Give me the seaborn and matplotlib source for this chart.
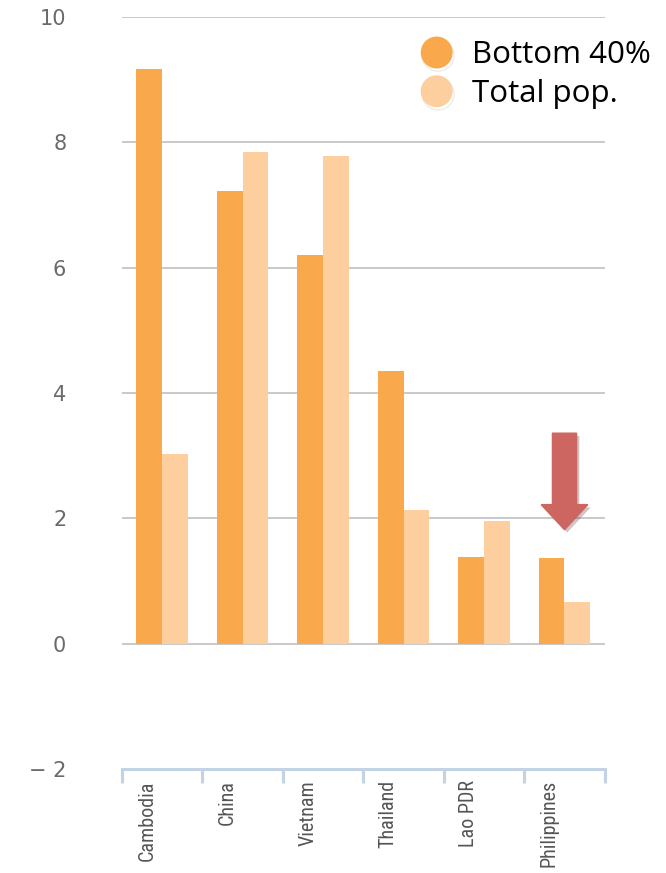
import numpy as np
import pandas as pd
import matplotlib
matplotlib.use("Agg")
import matplotlib.pyplot as plt
import seaborn as sns
from matplotlib import font_manager
from matplotlib.lines import Line2D
import matplotlib.patheffects as pe

countries = ["Cambodia", "China", "Vietnam", "Thailand", "Lao PDR", "Philippines"]
bottom40 = [9.17, 7.22, 6.21, 4.35, 1.39, 1.37]
total_pop = [3.02, 7.84, 7.78, 2.14, 1.96, 0.67]
series_names = ["Bottom 40%", "Total pop."]
ytick_values = [-2, 0, 2, 4, 6, 8, 10]
ytick_labels = ["\u2212 2", "0", "2", "4", "6", "8", "10"]

colors = ["#f9a84b", "#fdcf9e"]

df = pd.DataFrame({
    "country": countries * 2,
    "value": bottom40 + total_pop,
    "series": [series_names[0]] * len(countries) + [series_names[1]] * len(countries),
})

sns.set_theme(style="white")

def pick_font(cands):
    for c in cands:
        try:
            font_manager.findfont(font_manager.FontProperties(family=c), fallback_to_default=False)
            return c
        except Exception:
            pass
    return "DejaVu Sans"

narrow = pick_font(["Liberation Sans Narrow", "Roboto Condensed", "DejaVu Sans"])
legend_font = pick_font(["Open Sans", "Noto Sans", "DejaVu Sans"])

fig = plt.figure(figsize=(6.66, 8.73), dpi=100)
ax = fig.add_axes([0.183, 0.119, 0.725, 0.8615])

sns.barplot(data=df, x="country", y="value", hue="series", palette=colors,
            width=0.64, saturation=1, ax=ax, legend=False, edgecolor="none")

ax.set_xlim(-0.5, 5.5)
ax.set_ylim(-2, 10)

# grid lines
for v in ytick_values[1:]:
    ax.axhline(v, color="#c9c9c9", lw=1.4, zorder=0)

ax.set_yticks(ytick_values)
ax.set_yticklabels(ytick_labels, fontsize=15, color="#6a6a6a", family="DejaVu Sans")
ax.tick_params(axis="y", length=0, pad=40)

ax.set_xticks(np.arange(len(countries)) - 0.19)
ax.set_xticklabels(countries, rotation=90, fontsize=14.5, color="#555555",
                   family=narrow, va="top", ha="center")
ax.tick_params(axis="x", which="major", length=0, pad=8)
ax.set_xticks(np.arange(len(countries) + 1) - 0.5, minor=True)
ax.tick_params(axis="x", which="minor", bottom=True, length=10, width=2.2,
               color="#c3d3e6", direction="out")
ax.set_xlabel("")
ax.set_ylabel("")

for s in ["top", "left", "right"]:
    ax.spines[s].set_visible(False)
ax.spines["bottom"].set_color("#c3d3e6")
ax.spines["bottom"].set_linewidth(2.2)

# arrow annotation near Philippines
arrow = ax.arrow(5.0, 3.36, 0, -1.54, width=0.30, head_width=0.58, head_length=0.40,
                 length_includes_head=True, color="#cd6560", zorder=5)
arrow.set_path_effects([pe.SimplePatchShadow(offset=(2, -2), alpha=0.25), pe.Normal()])

# legend
handles = [Line2D([0], [0], marker="o", linestyle="none", markersize=23,
                  markerfacecolor=c, markeredgecolor="none",
                  path_effects=[pe.SimpleLineShadow(offset=(1, -2), alpha=0.15, shadow_color="gray"), pe.Normal()])
           for c in colors]
leg = fig.legend(handles, series_names, loc="upper left", bbox_to_anchor=(0.59, 0.968),
                 frameon=False, prop={"family": legend_font, "size": 22.5},
                 handletextpad=0.12, labelspacing=0.28, borderaxespad=0)
for t in leg.get_texts():
    t.set_color("black")

fig.savefig("out.png", dpi=100)
